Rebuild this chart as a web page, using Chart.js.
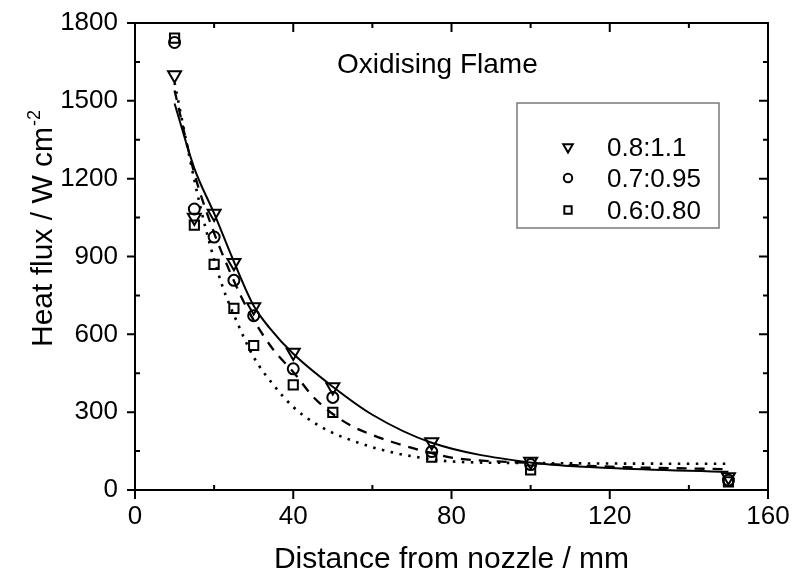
<!DOCTYPE html>
<html>
<head>
<meta charset="utf-8">
<script src="https://cdn.jsdelivr.net/npm/chart.js@4.4.1/dist/chart.umd.min.js"></script>
<style>
  html, body { margin: 0; padding: 0; background: #fff; }
  #wrap { width: 798px; height: 572px; }
</style>
</head>
<body>
<div id="wrap"><canvas id="myChart" width="798" height="572"></canvas></div>
<script>
// measured points (distance in mm, heat flux in W cm-2)
const distance = [10, 15, 20, 25, 30, 40, 50, 75, 100, 150];
const flux08 = [1600, 1050, 1066, 876, 705, 530, 397, 185, 110, 50];
const flux07 = [1725, 1083, 975, 808, 672, 467, 357, 148, 98, 38];
const flux06 = [1742, 1021, 870, 700, 557, 405, 299, 127, 77, 31];
const seriesLabels = ['0.8:1.1', '0.7:0.95', '0.6:0.80'];

// fitted curves
const fit08X = [10, 15, 20, 25, 30, 34, 40, 50, 60, 75, 100, 120, 150];
const fit08Y = [1490, 1240, 1066, 880, 710, 625, 525, 398, 290, 182, 106, 85, 70];
const fit07X = [10, 15, 20, 22, 27, 30, 35, 40, 45, 50, 55, 60, 65, 70, 75, 80, 100, 120, 150];
const fit07Y = [1540, 1220, 990, 913, 740, 655, 540, 455, 360, 293, 245, 212, 185, 162, 142, 125, 104, 90, 80];
const fit06X = [10, 15, 18, 22, 26, 30, 35, 40, 45, 50, 55, 60, 65, 70, 80, 100, 120, 150];
const fit06Y = [1570, 1195, 1000, 790, 640, 512, 405, 320, 262, 220, 190, 165, 145, 130, 110, 104, 102, 101];

// axis ticks
const xTicks = [0, 40, 80, 120, 160];
const xMinor = [20, 60, 100, 140];
const yTicks = [0, 300, 600, 900, 1200, 1500, 1800];
const yMinor = [150, 450, 750, 1050, 1350, 1650];

const FONT = '"Liberation Sans", Arial, sans-serif';

function pts(xs, ys) {
  return xs.map((v, i) => ({x: v, y: ys[i]}));
}

const markers = [
  {pointStyle: 'triangle', rotation: 180, radius: 7.5, legendRadius: 5.5},
  {pointStyle: 'circle', rotation: 0, radius: 5.5, legendRadius: 4.2},
  {pointStyle: 'rect', rotation: 0, radius: 6.5, legendRadius: 5.2}
];

function scatterSet(ys, m, label) {
  return {
    label: label,
    data: pts(distance, ys),
    showLine: false,
    pointStyle: m.pointStyle,
    rotation: m.rotation,
    pointRadius: m.radius,
    pointBorderWidth: 2,
    pointBorderColor: '#000',
    pointBackgroundColor: 'rgba(0,0,0,0)'
  };
}

function fitSet(xs, ys, dash, width) {
  return {
    label: 'fit',
    data: pts(xs, ys),
    showLine: true,
    pointRadius: 0,
    borderColor: '#000',
    borderWidth: width,
    borderDash: dash,
    cubicInterpolationMode: 'monotone',
    fill: false
  };
}

const frame = {
  id: 'frame',
  afterDraw(chart) {
    const ctx = chart.ctx;
    const a = chart.chartArea;
    const x = chart.scales.x, y = chart.scales.y;
    ctx.save();
    ctx.strokeStyle = '#000';
    ctx.lineWidth = 2;
    ctx.strokeRect(a.left, a.top, a.right - a.left, a.bottom - a.top);
    ctx.beginPath();
    xTicks.forEach(v => {
      const p = x.getPixelForValue(v);
      ctx.moveTo(p, a.bottom + 9); ctx.lineTo(p, a.bottom);
      ctx.moveTo(p, a.top); ctx.lineTo(p, a.top + 9);
    });
    xMinor.forEach(v => {
      const p = x.getPixelForValue(v);
      ctx.moveTo(p, a.bottom); ctx.lineTo(p, a.bottom - 5);
      ctx.moveTo(p, a.top); ctx.lineTo(p, a.top + 5);
    });
    yTicks.forEach(v => {
      const p = y.getPixelForValue(v);
      ctx.moveTo(a.left - 8, p); ctx.lineTo(a.left, p);
      ctx.moveTo(a.right, p); ctx.lineTo(a.right - 9, p);
    });
    yMinor.forEach(v => {
      const p = y.getPixelForValue(v);
      ctx.moveTo(a.left, p); ctx.lineTo(a.left + 5, p);
      ctx.moveTo(a.right, p); ctx.lineTo(a.right - 5, p);
    });
    ctx.stroke();

    // axis titles
    ctx.fillStyle = '#000';
    ctx.textBaseline = 'alphabetic';
    ctx.font = '30px ' + FONT;
    ctx.textAlign = 'center';
    ctx.fillText('Distance from nozzle / mm', (a.left + a.right) / 2, 568);

    ctx.save();
    ctx.translate(52, 347);
    ctx.rotate(-Math.PI / 2);
    ctx.textAlign = 'left';
    ctx.font = '30px ' + FONT;
    const main = 'Heat flux / W cm';
    ctx.fillText(main, 0, 0);
    const w = ctx.measureText(main).width;
    ctx.font = '18px ' + FONT;
    ctx.fillText('-2', w + 1, -12);
    ctx.restore();

    // annotation
    ctx.font = '28px ' + FONT;
    ctx.textAlign = 'left';
    ctx.fillText('Oxidising Flame', 337, 73);

    // legend box
    ctx.strokeStyle = '#7a7a7a';
    ctx.lineWidth = 1.5;
    ctx.strokeRect(517, 103, 202, 125);
    ctx.strokeStyle = '#000';
    ctx.lineWidth = 2;
    ctx.fillStyle = 'rgba(0,0,0,0)';
    const rows = [147, 178, 210];
    markers.forEach((m, i) => {
      Chart.helpers.drawPoint(ctx, {
        pointStyle: m.pointStyle, rotation: m.rotation,
        radius: m.legendRadius, borderWidth: 2
      }, 568, rows[i]);
    });
    ctx.fillStyle = '#000';
    ctx.font = '26px ' + FONT;
    seriesLabels.forEach((t, i) => {
      ctx.fillText(t, 607, rows[i] + 9);
    });
    ctx.restore();
  }
};

const ctx = document.getElementById('myChart').getContext('2d');
const chart = new Chart(ctx, {
  type: 'scatter',
  data: {
    datasets: [
      fitSet(fit08X, fit08Y, [], 2),
      fitSet(fit07X, fit07Y, [10, 8], 2.3),
      fitSet(fit06X, fit06Y, [2.5, 6.5], 2.6),
      scatterSet(flux08, markers[0], seriesLabels[0]),
      scatterSet(flux07, markers[1], seriesLabels[1]),
      scatterSet(flux06, markers[2], seriesLabels[2])
    ]
  },
  options: {
    responsive: false,
    animation: false,
    layout: {padding: {left: 0, right: 30, top: 23, bottom: 0}},
    plugins: {legend: {display: false}, tooltip: {enabled: false}},
    scales: {
      x: {
        type: 'linear', min: 0, max: 160,
        afterBuildTicks: s => { s.ticks = xTicks.map(v => ({value: v})); },
        afterFit: s => { s.height = 82; s.paddingLeft = 0; s.paddingRight = 0; },
        grid: {display: false, drawTicks: false},
        border: {display: false},
        ticks: {color: '#000', padding: 11, maxRotation: 0, font: {family: FONT, size: 26}, callback: v => String(v)}
      },
      y: {
        type: 'linear', min: 0, max: 1800,
        afterBuildTicks: s => { s.ticks = yTicks.map(v => ({value: v})); },
        afterFit: s => { s.width = 135; s.paddingTop = 0; s.paddingBottom = 0; },
        grid: {display: false, drawTicks: false},
        border: {display: false},
        ticks: {color: '#000', padding: 17, font: {family: FONT, size: 26}, callback: v => String(v)}
      }
    }
  },
  plugins: [frame]
});
</script>
</body>
</html>
